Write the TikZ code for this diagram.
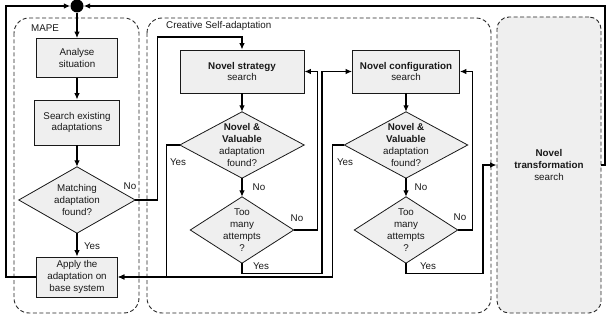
\documentclass[tikz,border=0pt]{standalone}
\usepackage{fontspec}
\setmainfont{Liberation Sans}
\usetikzlibrary{arrows.meta,backgrounds}
\definecolor{boxfill}{HTML}{EFEFEF}
\begin{document}
\begin{tikzpicture}[x=1pt,y=-1pt,
  every node/.style={font=\fontsize{9.8}{11.8}\selectfont,text=black!90},
  box/.style={draw=black!90,line width=0.8pt,fill=boxfill,align=center,inner sep=0pt},
  dtext/.style={align=center,inner sep=0pt},
  dshape/.style={draw=black!90,line width=0.8pt,fill=boxfill},
  arr/.style={draw=black,line width=1.2pt,-{Latex[length=6.5pt,width=5.5pt]}},
  cont/.style={draw=black!85,line width=0.9pt,dash pattern=on 4pt off 2.5pt,rounded corners=15pt},
  lbl/.style={inner sep=0pt}
]
\useasboundingbox (0,0) rectangle (607,320);

% containers
\draw[cont] (14,18) rectangle (139,313);
\draw[cont] (147,18) rectangle (491,313);
\node[lbl,anchor=west] (mape) at (31,28) {MAPE};
\node[lbl,anchor=west] (csa) at (166,26) {Creative Self-adaptation};

\node[box,draw=black!85,line width=0.9pt,dash pattern=on 4pt off 2.5pt,rounded corners=12pt,
      minimum width=104pt,minimum height=296pt] (nt) at (549,165)
      {\textbf{Novel}\\\textbf{transformation}\\search};

% junction dot
\node[circle,fill=black,minimum size=13pt,inner sep=0pt] (dot) at (77,6) {};

% MAPE column
\node[box,minimum width=81pt,minimum height=39pt] (an) at (77,58) {Analyse\\situation};
\node[box,minimum width=85pt,minimum height=45pt] (se) at (77,122.5) {Search existing\\adaptations};
\node[dtext,minimum width=116pt,minimum height=66pt] (md) at (77,200) {Matching\\adaptation\\found?};
\node[box,minimum width=81pt,minimum height=40pt] (ap) at (77,277) {Apply the\\adaptation on\\base system};

% strategy column
\node[box,minimum width=124pt,minimum height=43pt] (ns) at (242,71.5) {\textbf{Novel strategy}\\search};
\node[dtext,minimum width=124pt,minimum height=66pt] (sd) at (242,145) {\textbf{Novel \&}\\\textbf{Valuable}\\adaptation\\found?};
\node[dtext,minimum width=103pt,minimum height=66pt] (st) at (242,230) {Too\\many\\attempts\\?};

% configuration column
\node[box,minimum width=107pt,minimum height=43pt] (nc) at (406,71.5) {\textbf{Novel configuration}\\search};
\node[dtext,minimum width=123pt,minimum height=66pt] (cd) at (406,145) {\textbf{Novel \&}\\\textbf{Valuable}\\adaptation\\found?};
\node[dtext,minimum width=103pt,minimum height=66pt] (ct) at (406,230) {Too\\many\\attempts\\?};

\begin{scope}[on background layer]
  \foreach \n in {md,sd,st,cd,ct}
    \draw[dshape] (\n.north) -- (\n.east) -- (\n.south) -- (\n.west) -- cycle;
\end{scope}

% connectors
\draw[arr] (dot) -- (an);
\draw[arr] (an) -- (se);
\draw[arr] (se) -- (md.north);
\draw[arr] (md.south) -- (ap);
\draw[arr] (md.east) -- ++(22,0) |- (157,37) -| (ns.north);
\draw[arr] (ns) -- (sd.north);
\draw[arr] (sd.west) -- ++(-13,0) |- (ap.east);
\draw[arr] (sd.south) -- (st.north);
\draw[arr] (st.east) -- ++(24,0) |- (ns.east);
\draw[arr] (st.south) -- ++(0,10) -- ++(80,0) |- (nc.west);
\draw[arr] (nc) -- (cd.north);
\draw[arr] (cd.west) -- ++(-12,0) |- (ap.east);
\draw[arr] (cd.south) -- (ct.north);
\draw[arr] (ct.east) -- ++(15,0) |- (nc.east);
\draw[arr] (ct.south) -- ++(0,10) -- ++(77,0) |- (nt.west);
\draw[arr] (ap.west) -| (6,6) -- (dot);
\draw[arr] (nt.east) -| (605,6) -- (dot);

% labels
\node[lbl] (l1) at (130,186) {No};
\node[lbl] (l2) at (92,246) {Yes};
\node[lbl] (l3) at (259,187) {No};
\node[lbl] (l4) at (178,162) {Yes};
\node[lbl] (l5) at (297,218) {No};
\node[lbl] (l6) at (261,266) {Yes};
\node[lbl] (l7) at (345,162) {Yes};
\node[lbl] (l8) at (421,187) {No};
\node[lbl] (l9) at (460,217) {No};
\node[lbl] (l10) at (428,266) {Yes};
\end{tikzpicture}
\end{document}
